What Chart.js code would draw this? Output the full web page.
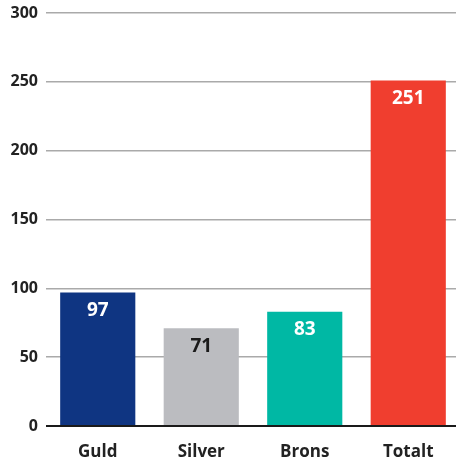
<!DOCTYPE html>
<html><head><meta charset="utf-8">
<script src="https://cdn.jsdelivr.net/npm/chart.js@4"></script>
<style>
html,body{margin:0;padding:0;background:#fff;overflow:hidden;}
#wrap{width:460px;height:464px;position:relative;}
</style></head><body>
<div id="wrap"><canvas id="c" width="460" height="464"></canvas></div>
<script>
const categories = ["Guld", "Silver", "Brons", "Totalt"];
const values = [97, 71, 83, 251];
const barColors = ["#0f3582", "#bbbcc0", "#00b8a4", "#f03e2f"];
const labelColors = ["#ffffff", "#1a1a1a", "#ffffff", "#ffffff"];
const yTicks = [0, 50, 100, 150, 200, 250, 300];

const FONT = "'Open Sans', Lato, sans-serif";

const valueLabels = {
  id: 'valueLabels',
  afterDatasetsDraw(chart) {
    const ctx = chart.ctx;
    const meta = chart.getDatasetMeta(0);
    ctx.save();
    ctx.font = "bold 19px " + FONT;
    ctx.textAlign = 'center';
    ctx.textBaseline = 'middle';
    meta.data.forEach((bar, i) => {
      ctx.fillStyle = labelColors[i];
      ctx.fillText(String(values[i]), bar.x, bar.y + 18);
    });
    ctx.restore();
  }
};

new Chart(document.getElementById('c'), {
  type: 'bar',
  data: {
    labels: categories,
    datasets: [{
      data: values,
      backgroundColor: barColors,
      borderWidth: 0,
      barPercentage: 0.726,
      categoryPercentage: 1
    }]
  },
  options: {
    responsive: false,
    animation: false,
    layout: { padding: { top: 13, right: 0, left: 0, bottom: 0 } },
    plugins: { legend: { display: false }, tooltip: { enabled: false } },
    scales: {
      y: {
        min: 0, max: 300,
        afterBuildTicks(scale) { scale.ticks = yTicks.map(v => ({ value: v })); },
        afterFit(scale) { scale.width = 46; scale.paddingTop = 0; scale.paddingBottom = 0; },
        border: { display: false },
        grid: {
          drawTicks: false,
          lineWidth: (c) => c.tick && c.tick.value === 0 ? 2 : 1.5,
          color: (c) => c.tick && c.tick.value === 0 ? '#1a1a1a' : '#aaaaaa'
        },
        ticks: {
          padding: 8,
          color: '#222222',
          font: { family: FONT, size: 16, weight: 'bold' }
        }
      },
      x: {
        afterFit(scale) { scale.height = 38; },
        border: { display: false },
        grid: { display: false, drawTicks: false },
        ticks: {
          padding: 16,
          color: '#222222',
          font: { family: FONT, size: 17, weight: 'bold' }
        }
      }
    }
  },
  plugins: [valueLabels]
});
</script>
</body></html>
